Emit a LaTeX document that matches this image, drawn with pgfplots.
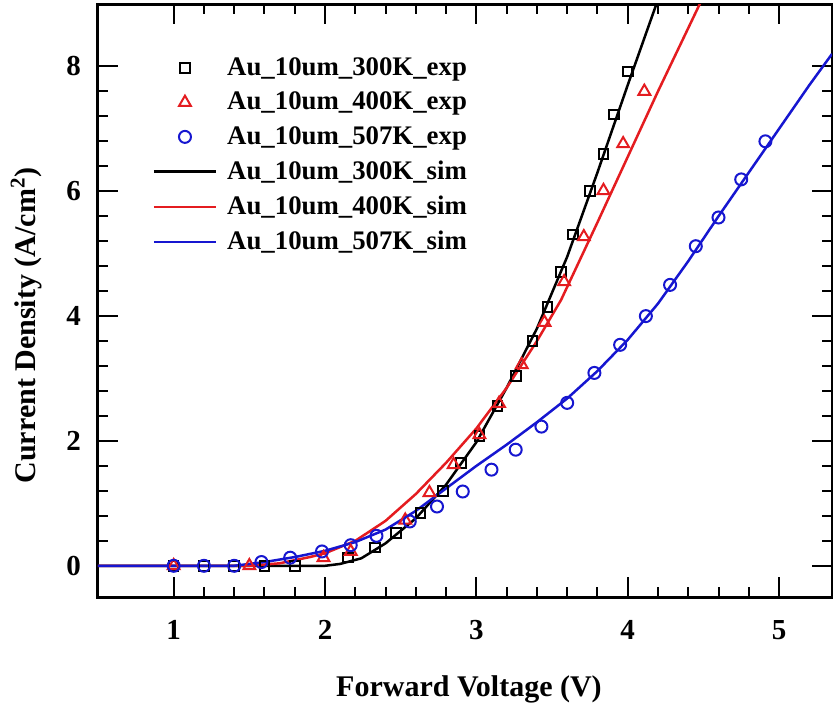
\documentclass[border=0pt]{standalone}
\usepackage{fontspec}
\setmainfont{Liberation Serif}
\usepackage{pgfplots}
\pgfplotsset{compat=1.18}

\definecolor{simred}{RGB}{228,28,32}
\definecolor{simblue}{RGB}{22,22,208}

\begin{document}
\begin{tikzpicture}
\begin{axis}[
  scale only axis,
  width=367pt, height=296.5pt,
  xmin=0.5, xmax=5.35, ymin=-0.5, ymax=9,
  xtick={1,2,3,4,5}, ytick={0,2,4,6,8},
  minor x tick num=4, minor y tick num=4,
  tick align=inside,
  major tick length=10pt, minor tick length=5pt,
  axis line style={line width=1.5pt},
  every tick/.style={black, line width=1pt},
  /pgf/number format/assume math mode=true,
  ticklabel style={font=\bfseries\fontsize{14.5}{17}\selectfont},
  xticklabel style={yshift=-8pt},
  yticklabel style={xshift=-5pt},
  xlabel={\bfseries Forward Voltage (V)},
  ylabel={\bfseries Current Density (A/cm\textsuperscript{2})},
  label style={font=\bfseries\fontsize{15}{18}\selectfont},
  xlabel style={at={(axis description cs:0.5054,-0.1686)}, anchor=base},
  ylabel style={at={(axis description cs:-0.098,0.458)}, anchor=center, rotate=0},
  legend cell align=left,
  legend style={
    at={(axis description cs:0.074,0.917)}, anchor=north west,
    draw=none, fill=none, inner sep=0pt,
    font=\bfseries\fontsize{13.4}{16}\selectfont,
    row sep=2.8pt,
    /tikz/every odd column/.append style={column sep=3pt},
  },
  legend image code/.code={%
    \draw[mark repeat=2, mark phase=2, #1]
      plot coordinates {(0pt,0pt) (15.5pt,0pt) (31pt,0pt)};},
]
% measured points
\addplot[only marks, mark=square, mark size=2.4pt, black, line width=1pt]
  coordinates {
  (1.0,0) (1.2,0) (1.4,0) (1.6,0) (1.8,0) (2.15,0.13) (2.33,0.29) (2.47,0.53)
  (2.63,0.85) (2.78,1.2) (2.90,1.65) (3.02,2.08) (3.14,2.56) (3.26,3.04)
  (3.37,3.6) (3.47,4.15) (3.56,4.71) (3.64,5.31) (3.75,6.0) (3.84,6.6)
  (3.91,7.23) (4.0,7.92)};
\addlegendentry{Au\_10um\_300K\_exp}
\addplot[only marks, mark=triangle, mark size=3.4pt, simred, line width=1pt]
  coordinates {
  (1.0,0) (1.5,0) (1.99,0.13) (2.17,0.23) (2.53,0.73) (2.69,1.17) (2.85,1.62)
  (3.02,2.1) (3.15,2.6) (3.30,3.22) (3.45,3.9) (3.58,4.55) (3.71,5.27)
  (3.84,6.01) (3.97,6.76) (4.11,7.6)};
\addlegendentry{Au\_10um\_400K\_exp}
\addplot[only marks, mark=o, mark size=3pt, simblue, line width=1pt]
  coordinates {
  (1.0,0) (1.2,0) (1.4,0) (1.58,0.06) (1.77,0.13) (1.98,0.23) (2.17,0.33)
  (2.34,0.48) (2.56,0.71) (2.74,0.95) (2.91,1.19) (3.10,1.54) (3.26,1.86)
  (3.43,2.23) (3.60,2.61) (3.78,3.09) (3.95,3.54) (4.12,4.0) (4.28,4.5)
  (4.45,5.12) (4.6,5.58) (4.75,6.19) (4.91,6.8)};
\addlegendentry{Au\_10um\_507K\_exp}
% simulated curves
\addplot[black, line width=1.25pt, mark=none]
  coordinates {
  (0.5,0) (2.0,0) (2.1,0.03) (2.24,0.12) (2.4,0.36) (2.6,0.76) (2.8,1.3)
  (3.0,1.98) (3.2,2.85) (3.4,3.8) (3.6,4.95) (3.8,6.3) (4.0,7.7) (4.2,9.07)};
\addlegendentry{Au\_10um\_300K\_sim}
\addplot[simred, line width=1.25pt, mark=none]
  coordinates {
  (0.5,0) (1.5,0) (1.7,0.04) (1.9,0.14) (2.0,0.2) (2.2,0.4) (2.4,0.72)
  (2.6,1.15) (2.8,1.65) (3.0,2.2) (3.2,2.85) (3.4,3.6) (3.56,4.26) (3.8,5.5)
  (4.0,6.55) (4.2,7.6) (4.49,9.07)};
\addlegendentry{Au\_10um\_400K\_sim}
\addplot[simblue, line width=1.25pt, mark=none]
  coordinates {
  (0.5,0) (1.4,0) (1.6,0.06) (1.8,0.14) (2.0,0.24) (2.2,0.38) (2.4,0.58)
  (2.6,0.88) (2.8,1.24) (3.0,1.6) (3.2,1.94) (3.4,2.3) (3.6,2.68) (3.8,3.12)
  (4.0,3.62) (4.2,4.2) (4.4,4.88) (4.6,5.6) (4.8,6.3) (5.0,7.0) (5.2,7.7)
  (5.35,8.2)};
\addlegendentry{Au\_10um\_507K\_sim}
\coordinate (bl) at (rel axis cs:0,0);
\coordinate (tr) at (rel axis cs:1,1);
\end{axis}
\pgfresetboundingbox
\path[use as bounding box] ([xshift=-49pt,yshift=-55pt]bl) rectangle ([xshift=0.5pt,yshift=2pt]tr);
\end{tikzpicture}
\end{document}
